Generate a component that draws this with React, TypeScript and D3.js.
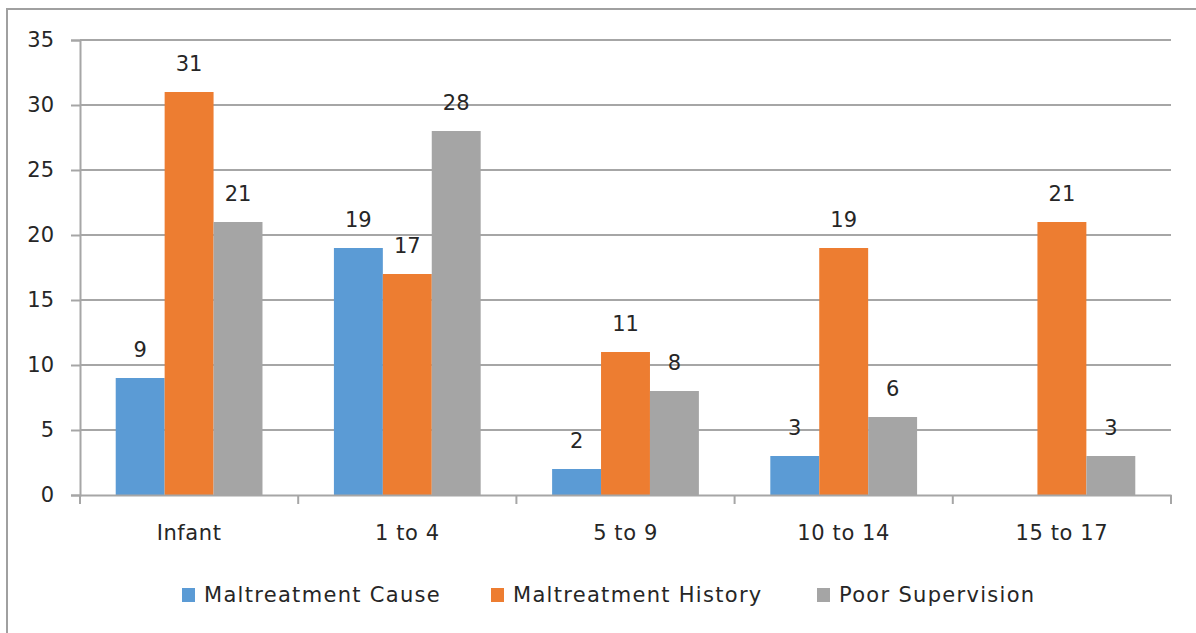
import React, { useEffect } from 'react';
import * as d3 from 'd3';

// Age groups and counts per cause
const categories = ['Infant', '1 to 4', '5 to 9', '10 to 14', '15 to 17'];
const seriesNames = ['Maltreatment Cause', 'Maltreatment History', 'Poor Supervision'];
const maltreatmentCause = [9, 19, 2, 3, null];
const maltreatmentHistory = [31, 17, 11, 19, 21];
const poorSupervision = [21, 28, 8, 6, 3];
const yTicks = [0, 5, 10, 15, 20, 25, 30, 35];
const colors = ['#5B9BD5', '#ED7D31', '#A5A5A5'];

const W = 1196;
const H = 633;
const FONT = '"DejaVu Sans", "Open Sans", sans-serif';
const FS = 21;

const BarChart = () => {
  const svgRef = React.useRef<SVGSVGElement>(null);

  useEffect(() => {
    if (!svgRef.current) return;
    const svg = d3.select(svgRef.current);
    svg.selectAll('*').remove();

    const left = 80, right = 1171, top = 40, bottom = 495;
    const series = [maltreatmentCause, maltreatmentHistory, poorSupervision];

    // chart border
    svg.append('rect')
      .attr('x', 7).attr('y', 9)
      .attr('width', W).attr('height', H)
      .attr('fill', '#fff')
      .attr('stroke', '#a0a0a0')
      .attr('stroke-width', 2);

    const x0 = d3.scaleBand().domain(categories).range([left, right]);
    const x1 = d3.scaleBand<number>()
      .domain([0, 1, 2])
      .range([0, x0.bandwidth()])
      .paddingOuter(0.73);
    const y = d3.scaleLinear().domain([0, 35]).range([bottom, top]);

    // gridlines
    svg.append('g')
      .selectAll('line')
      .data(yTicks.filter(t => t > 0))
      .enter()
      .append('line')
      .attr('x1', left).attr('x2', right)
      .attr('y1', d => y(d)).attr('y2', d => y(d))
      .attr('stroke', '#a6a6a6')
      .attr('stroke-width', 2);

    // bars
    series.forEach((vals, si) => {
      const g = svg.append('g');
      const rows = categories.map((c, i) => ({ c, v: vals[i] })).filter(d => d.v != null);
      g.selectAll('rect')
        .data(rows)
        .enter()
        .append('rect')
        .attr('x', d => (x0(d.c) || 0) + (x1(si) || 0))
        .attr('y', d => y(d.v as number))
        .attr('width', x1.bandwidth())
        .attr('height', d => y(0) - y(d.v as number))
        .attr('fill', colors[si]);

      g.selectAll('text')
        .data(rows)
        .enter()
        .append('text')
        .attr('x', d => (x0(d.c) || 0) + (x1(si) || 0) + x1.bandwidth() / 2)
        .attr('y', d => y(d.v as number) - 28)
        .attr('dy', '0.35em')
        .attr('text-anchor', 'middle')
        .attr('font-family', FONT)
        .attr('font-size', FS)
        .attr('fill', '#262626')
        .text(d => String(d.v));
    });

    // y axis
    const yAxis = svg.append('g')
      .attr('transform', `translate(${left},0)`)
      .call(d3.axisLeft(y).tickValues(yTicks).tickSize(9).tickPadding(17));
    yAxis.select('.domain').attr('stroke', '#a6a6a6').attr('stroke-width', 2);
    yAxis.selectAll('.tick line').attr('stroke', '#a6a6a6').attr('stroke-width', 2);
    yAxis.selectAll('.tick text')
      .attr('font-family', FONT).attr('font-size', FS).attr('fill', '#262626');

    // x axis
    const xAxis = svg.append('g')
      .attr('transform', `translate(0,${bottom})`)
      .call(d3.axisBottom(x0).tickSize(0).tickPadding(30));
    xAxis.select('.domain').attr('stroke', '#a6a6a6').attr('stroke-width', 2);
    xAxis.selectAll('.tick text')
      .attr('font-family', FONT).attr('font-size', FS)
      .attr('letter-spacing', 0.6).attr('fill', '#262626');
    xAxis.selectAll('line.boundary')
      .data(d3.range(categories.length + 1))
      .enter()
      .append('line')
      .attr('class', 'boundary')
      .attr('x1', i => left + i * x0.step())
      .attr('x2', i => left + i * x0.step())
      .attr('y1', 0).attr('y2', 9)
      .attr('stroke', '#a6a6a6')
      .attr('stroke-width', 2);

    // legend
    const legendX = [182, 491, 817];
    const legend = svg.append('g');
    seriesNames.forEach((name, i) => {
      legend.append('rect')
        .attr('x', legendX[i]).attr('y', 588)
        .attr('width', 13).attr('height', 14)
        .attr('fill', colors[i]);
      legend.append('text')
        .attr('x', legendX[i] + 22).attr('y', 595)
        .attr('dy', '0.35em')
        .attr('font-family', FONT)
        .attr('font-size', FS)
        .attr('letter-spacing', 1.3)
        .attr('fill', '#262626')
        .text(name);
    });
  }, []);

  return <svg ref={svgRef} width={W} height={H} style={{ position: 'absolute', left: 0, top: 0 }} />;
};

export default function App() {
  return <BarChart />;
}
